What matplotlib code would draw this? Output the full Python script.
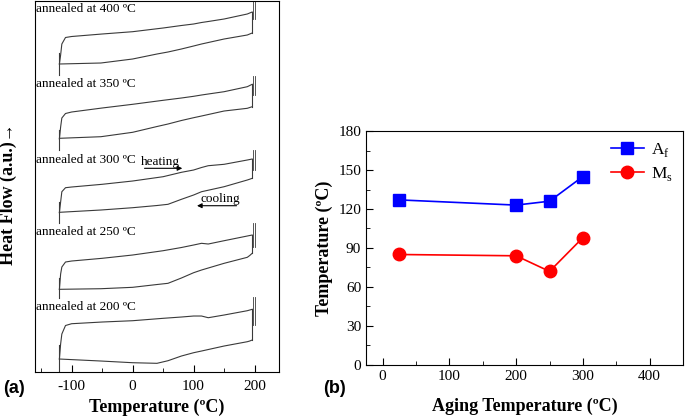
import matplotlib
matplotlib.use("Agg")
import matplotlib.pyplot as plt
from matplotlib.ticker import MultipleLocator

plt.rcParams['font.family'] = ['Liberation Serif', 'DejaVu Serif']
plt.rcParams['mathtext.fontset'] = 'custom'
plt.rcParams['mathtext.rm'] = 'Liberation Serif'
plt.rcParams['axes.unicode_minus'] = False

# (a) DSC curves, heat flow in arbitrary units
anneal_labels = ['annealed at 400 ºC', 'annealed at 350 ºC', 'annealed at 300 ºC',
                 'annealed at 250 ºC', 'annealed at 200 ºC']
label_y = [363, 288, 212, 140, 65]

heat_T = [-120, -118, -116, -110, -100, -50, 0, 50, 80, 100, 113, 124, 150, 188, 196]
heat_400 = [308, 317, 328, 334.5, 335.5, 338, 340.3, 344, 346.5, 348, 349.5, 350.5, 353, 358, 360]
heat_350 = [233, 245, 254, 258.5, 260, 264, 267.7, 271.7, 274, 275.7, 277, 278, 280.3, 285.3, 287.7]
heat_300 = [159.3, 170, 180.3, 184.3, 185, 187.7, 191, 195.3, 199.7, 202, 204.5, 206.3, 207.7, 212, 213]
heat_250 = [82.7, 98, 105, 110, 111, 113.7, 117, 121.3, 124.5, 127, 128.7, 128, 131.3, 136, 137]
heat_200 = [13, 28, 38, 46.5, 48.3, 50, 51.3, 53.7, 55, 56, 56, 54.3, 57, 61.3, 62.7]

cool_T = [196, 192, 188, 150, 113, 100, 80, 58, 40, 0, -52, -120]
cool_400 = [339, 338, 337, 333, 328, 326, 323, 320, 318, 313, 309, 308]
cool_350 = [265.3, 264.5, 263.7, 261, 256, 254.3, 251.5, 248, 245.5, 239.7, 235.3, 233.7]
cool_300 = [193.7, 192.8, 192, 185.3, 180.3, 177, 172.7, 167.7, 166.5, 164.3, 162, 159.7]
cool_250 = [118.7, 116.5, 114.7, 108.7, 102, 99.3, 94, 88.7, 87.5, 84.7, 83.3, 82.7]
cool_200 = [32, 31, 30.3, 26, 21, 19.3, 16, 11.3, 8.7, 9.3, 11, 13]

# start / end transients (vertical spikes)
spike_left = [(297, 319), (222, 242), (148.7, 170.3), (73.7, 93.7), (0.3, 27)]
spike_right = [(353, 372), (277, 296), (202, 222), (125, 149), (47, 75.3)]

# (b) transformation temperatures
aging_T = [25, 200, 250, 300]
Af = [127, 123, 126, 145]
Ms = [85, 84, 72, 98]

fig = plt.figure(figsize=(6.85, 4.18), dpi=100)
ax1 = fig.add_axes([0.0511, 0.110, 0.3562, 0.8876])
ax2 = fig.add_axes([0.5343, 0.1268, 0.4628, 0.5598])

heats = [heat_400, heat_350, heat_300, heat_250, heat_200]
cools = [cool_400, cool_350, cool_300, cool_250, cool_200]
lc = '#3a3a3a'
for i in range(5):
    ax1.plot(heat_T, heats[i], color=lc, lw=0.8)
    ax1.plot([heat_T[-1], cool_T[0]], [heats[i][-1], cools[i][0]], color=lc, lw=0.8)
    ax1.plot(cool_T, cools[i], color=lc, lw=0.8)
    ax1.plot([-121, -121], spike_left[i], color=lc, lw=0.8)
    ax1.plot([197, 197], spike_right[i], color=lc, lw=0.6)
    ax1.plot([200, 200], spike_right[i], color=lc, lw=0.6)
    ax1.text(-159, label_y[i], anneal_labels[i], fontsize=9.5, va='center', ha='left')

ax1.annotate('', xy=(86, 203.7), xytext=(15, 203.7),
             arrowprops=dict(arrowstyle='-|>', lw=0.8, color='k', mutation_scale=7))
ax1.text(46, 204.5, 'heating', fontsize=9.5, ha='center', va='bottom')
ax1.annotate('', xy=(101, 166.3), xytext=(175, 166.3),
             arrowprops=dict(arrowstyle='-|>', lw=0.8, color='k', mutation_scale=7))
ax1.text(143, 167, 'cooling', fontsize=9.5, ha='center', va='bottom')

ax1.set_xlim(-160, 240)
ax1.set_ylim(0, 371)
ax1.xaxis.set_major_locator(MultipleLocator(100))
ax1.xaxis.set_minor_locator(MultipleLocator(50))
ax1.set_yticks([])
ax1.tick_params(axis='x', which='major', direction='in', length=5, labelsize=11, pad=6)
ax1.tick_params(axis='x', which='minor', direction='in', length=3)
ax1.set_xlabel('Temperature (ºC)', fontsize=13, fontweight='bold', labelpad=4)
ax1.set_ylabel('Heat Flow (a.u.)\u2192', fontsize=13, fontweight='bold',
               family=['Liberation Serif', 'DejaVu Sans'])
ax1.yaxis.set_label_coords(-0.075, 0.48)

ax2.plot(aging_T, Af, '-s', color='blue', lw=1.2, markersize=8.5, label='A$_\\mathrm{f}$')
ax2.plot(aging_T, Ms, '-o', color='red', lw=1.2, markersize=9, label='M$_\\mathrm{s}$')
ax2.set_xlim(-25, 450)
ax2.set_ylim(0, 180)
ax2.xaxis.set_major_locator(MultipleLocator(100))
ax2.xaxis.set_minor_locator(MultipleLocator(50))
ax2.yaxis.set_major_locator(MultipleLocator(30))
ax2.yaxis.set_minor_locator(MultipleLocator(15))
ax2.tick_params(which='major', direction='in', length=5, labelsize=11)
ax2.tick_params(which='minor', direction='in', length=3)
ax2.set_xlabel('Aging Temperature (ºC)', fontsize=13, fontweight='bold', labelpad=11)
ax2.set_ylabel('Temperature (ºC)', fontsize=13, fontweight='bold', labelpad=4)
ax2.legend(loc='upper right', frameon=False, fontsize=12.5, handlelength=1.9,
           borderaxespad=0.2, labelspacing=0.3, handletextpad=0.4)

fig.text(0.004, 0.06, '(a)', fontsize=13, fontweight='bold', family='Liberation Sans')
fig.text(0.471, 0.06, '(b)', fontsize=13, fontweight='bold', family='Liberation Sans')

fig.savefig('out.png', dpi=100)
